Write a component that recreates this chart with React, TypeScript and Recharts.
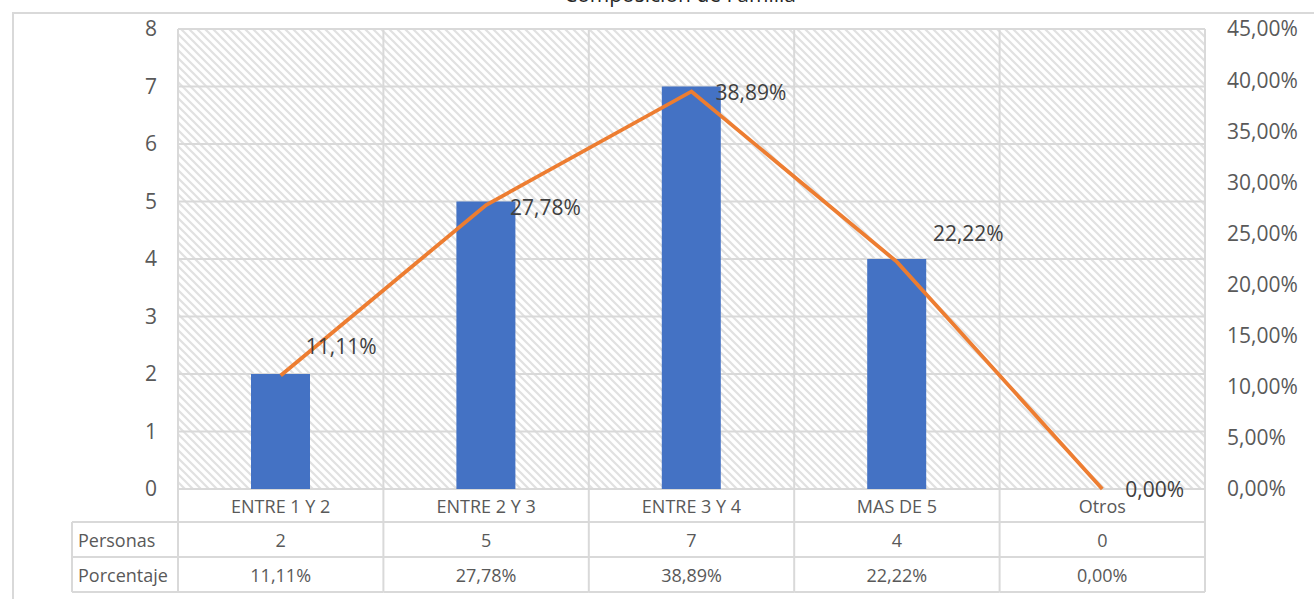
import React from 'react';
import { ComposedChart, Bar, Line, XAxis, YAxis, CartesianGrid, LabelList } from 'recharts';

const title = 'Composición de Familia';
const categories = ['ENTRE 1 Y 2', 'ENTRE 2 Y 3', 'ENTRE 3 Y 4', 'MAS DE 5', 'Otros'];
const personas = [2, 5, 7, 4, 0];
const porcentaje = [11.11, 27.78, 38.89, 22.22, 0];
const leftTicks = [0, 1, 2, 3, 4, 5, 6, 7, 8];
const rightTicks = [0, 5, 10, 15, 20, 25, 30, 35, 40, 45];
const rowHeaders = ['Personas', 'Porcentaje'];

// style: manual nudges of the line's data labels (as in the original)
const labelNudge = [
  { dx: 25, dy: -29 },
  { dx: 24, dy: 2 },
  { dx: 24, dy: 1 },
  { dx: 36, dy: -29 },
  { dx: 23, dy: 0 },
];

const data = categories.map((c, i) => ({ name: c, personas: personas[i], porcentaje: porcentaje[i] }));

const fmtPct = (v: number) => v.toFixed(2).replace('.', ',') + '%';

const FONT = "'Open Sans', 'Noto Sans', sans-serif";
const GRID = '#d9d9d9';
const TXT = '#595959';

const ROW = [0, 33, 68, 103];
const HEADER_W = 106;

const TableTick = (props: any) => {
  const { x, y, payload, index } = props;
  const w = typeof props.width === 'number' && props.width > 0 ? props.width : 1027;
  const cw = w / categories.length;
  const left = x - cw / 2;
  const right = x + cw / 2;
  const i = index as number;
  const ys = ROW.map((r) => y + r);
  const lineProps = { stroke: GRID, strokeWidth: 2 };
  return (
    <g>
      <line x1={right} x2={right} y1={ys[0]} y2={ys[3]} {...lineProps} />
      {i === 0 && <line x1={left} x2={left} y1={ys[0]} y2={ys[3]} {...lineProps} />}
      {[1, 2, 3].map((k) => (
        <line key={k} x1={i === 0 ? left - HEADER_W : left} x2={right} y1={ys[k]} y2={ys[k]} {...lineProps} />
      ))}
      {i === 0 && <line x1={left - HEADER_W} x2={left - HEADER_W} y1={ys[1]} y2={ys[3]} {...lineProps} />}
      {i === 0 &&
        rowHeaders.map((h, k) => (
          <text key={h} x={left - HEADER_W + 6} y={(ys[k + 1] + ys[k + 2]) / 2} dominantBaseline="central" fontSize={18} fill={TXT} fontFamily={FONT}>
            {h}
          </text>
        ))}
      <text x={x} y={(ys[0] + ys[1]) / 2} textAnchor="middle" dominantBaseline="central" fontSize={18} fill={TXT} fontFamily={FONT}>
        {payload.value}
      </text>
      <text x={x} y={(ys[1] + ys[2]) / 2} textAnchor="middle" dominantBaseline="central" fontSize={18} fill={TXT} fontFamily={FONT}>
        {String(personas[i])}
      </text>
      <text x={x} y={(ys[2] + ys[3]) / 2} textAnchor="middle" dominantBaseline="central" fontSize={18} fill={TXT} fontFamily={FONT}>
        {fmtPct(porcentaje[i])}
      </text>
    </g>
  );
};

const PctLabel = (props: any) => {
  const { x, y, value, index } = props;
  const n = labelNudge[index] || { dx: 24, dy: 0 };
  return (
    <text x={x + n.dx} y={y + n.dy} dominantBaseline="central" textAnchor="start" fontSize={21} fill="#404040" fontFamily={FONT}>
      {fmtPct(Number(value))}
    </text>
  );
};

export default function App() {
  return (
    <div style={{ position: 'absolute', left: 0, top: 0, width: 1314, height: 599, overflow: 'hidden', background: '#fff' }}>
      <svg width={0} height={0} style={{ position: 'absolute' }}>
        <defs>
          <pattern id="hatch" patternUnits="userSpaceOnUse" width={8} height={8}>
            <rect width={8} height={8} fill="#ffffff" />
            <path d="M-2,-2 L10,10 M-2,6 L2,10 M6,-2 L10,2" stroke="#e1e1e1" strokeWidth={2.2} />
          </pattern>
        </defs>
      </svg>
      <div
        style={{
          position: 'absolute',
          left: 12,
          top: 12,
          width: 1400,
          height: 700,
          borderLeft: '2px solid #d9d9d9',
          borderTop: '2px solid #d9d9d9',
        }}
      />
      <div
        style={{
          position: 'absolute',
          left: 0,
          width: 1360,
          top: -16,
          textAlign: 'center',
          fontFamily: FONT,
          fontSize: 21,
          lineHeight: '21px',
          color: '#262626',
        }}
      >
        {title}
      </div>
      <div style={{ position: 'absolute', left: 0, top: 0 }}>
        <ComposedChart width={1314} height={599} data={data} margin={{ top: 29, right: 9, bottom: 0, left: 118 }}>
          <CartesianGrid
            yAxisId="left"
            stroke={GRID}
            strokeWidth={2}
            fill="url(#hatch)"
            fillOpacity={1}
            verticalCoordinatesGenerator={({ offset }: any) =>
              categories.map((_, i) => offset.left + (i * offset.width) / categories.length).concat([offset.left + offset.width])
            }
          />
          <XAxis
            dataKey="name"
            height={110}
            tickLine={false}
            axisLine={false}
            tickSize={0}
            tickMargin={0}
            interval={0}
            tick={<TableTick />}
          />
          <YAxis
            yAxisId="left"
            orientation="left"
            width={60}
            domain={[0, 8]}
            ticks={leftTicks}
            interval={0}
            tickLine={false}
            axisLine={false}
            tickSize={0}
            tickMargin={21}
            tick={{ fontSize: 21, fill: TXT, fontFamily: FONT }}
          />
          <YAxis
            yAxisId="right"
            orientation="right"
            width={100}
            domain={[0, 45]}
            ticks={rightTicks}
            interval={0}
            tickLine={false}
            axisLine={false}
            tickSize={0}
            tickMargin={22}
            tickFormatter={(v: number) => fmtPct(v)}
            tick={{ fontSize: 21, fill: TXT, fontFamily: FONT }}
          />
          <Bar yAxisId="left" dataKey="personas" fill="#4472C4" barSize={59} isAnimationActive={false} />
          <Line
            yAxisId="right"
            dataKey="porcentaje"
            stroke="#ED7D31"
            strokeWidth={3.8}
            dot={false}
            activeDot={false}
            isAnimationActive={false}
            type="linear"
          >
            <LabelList dataKey="porcentaje" content={<PctLabel />} />
          </Line>
        </ComposedChart>
      </div>
    </div>
  );
}
